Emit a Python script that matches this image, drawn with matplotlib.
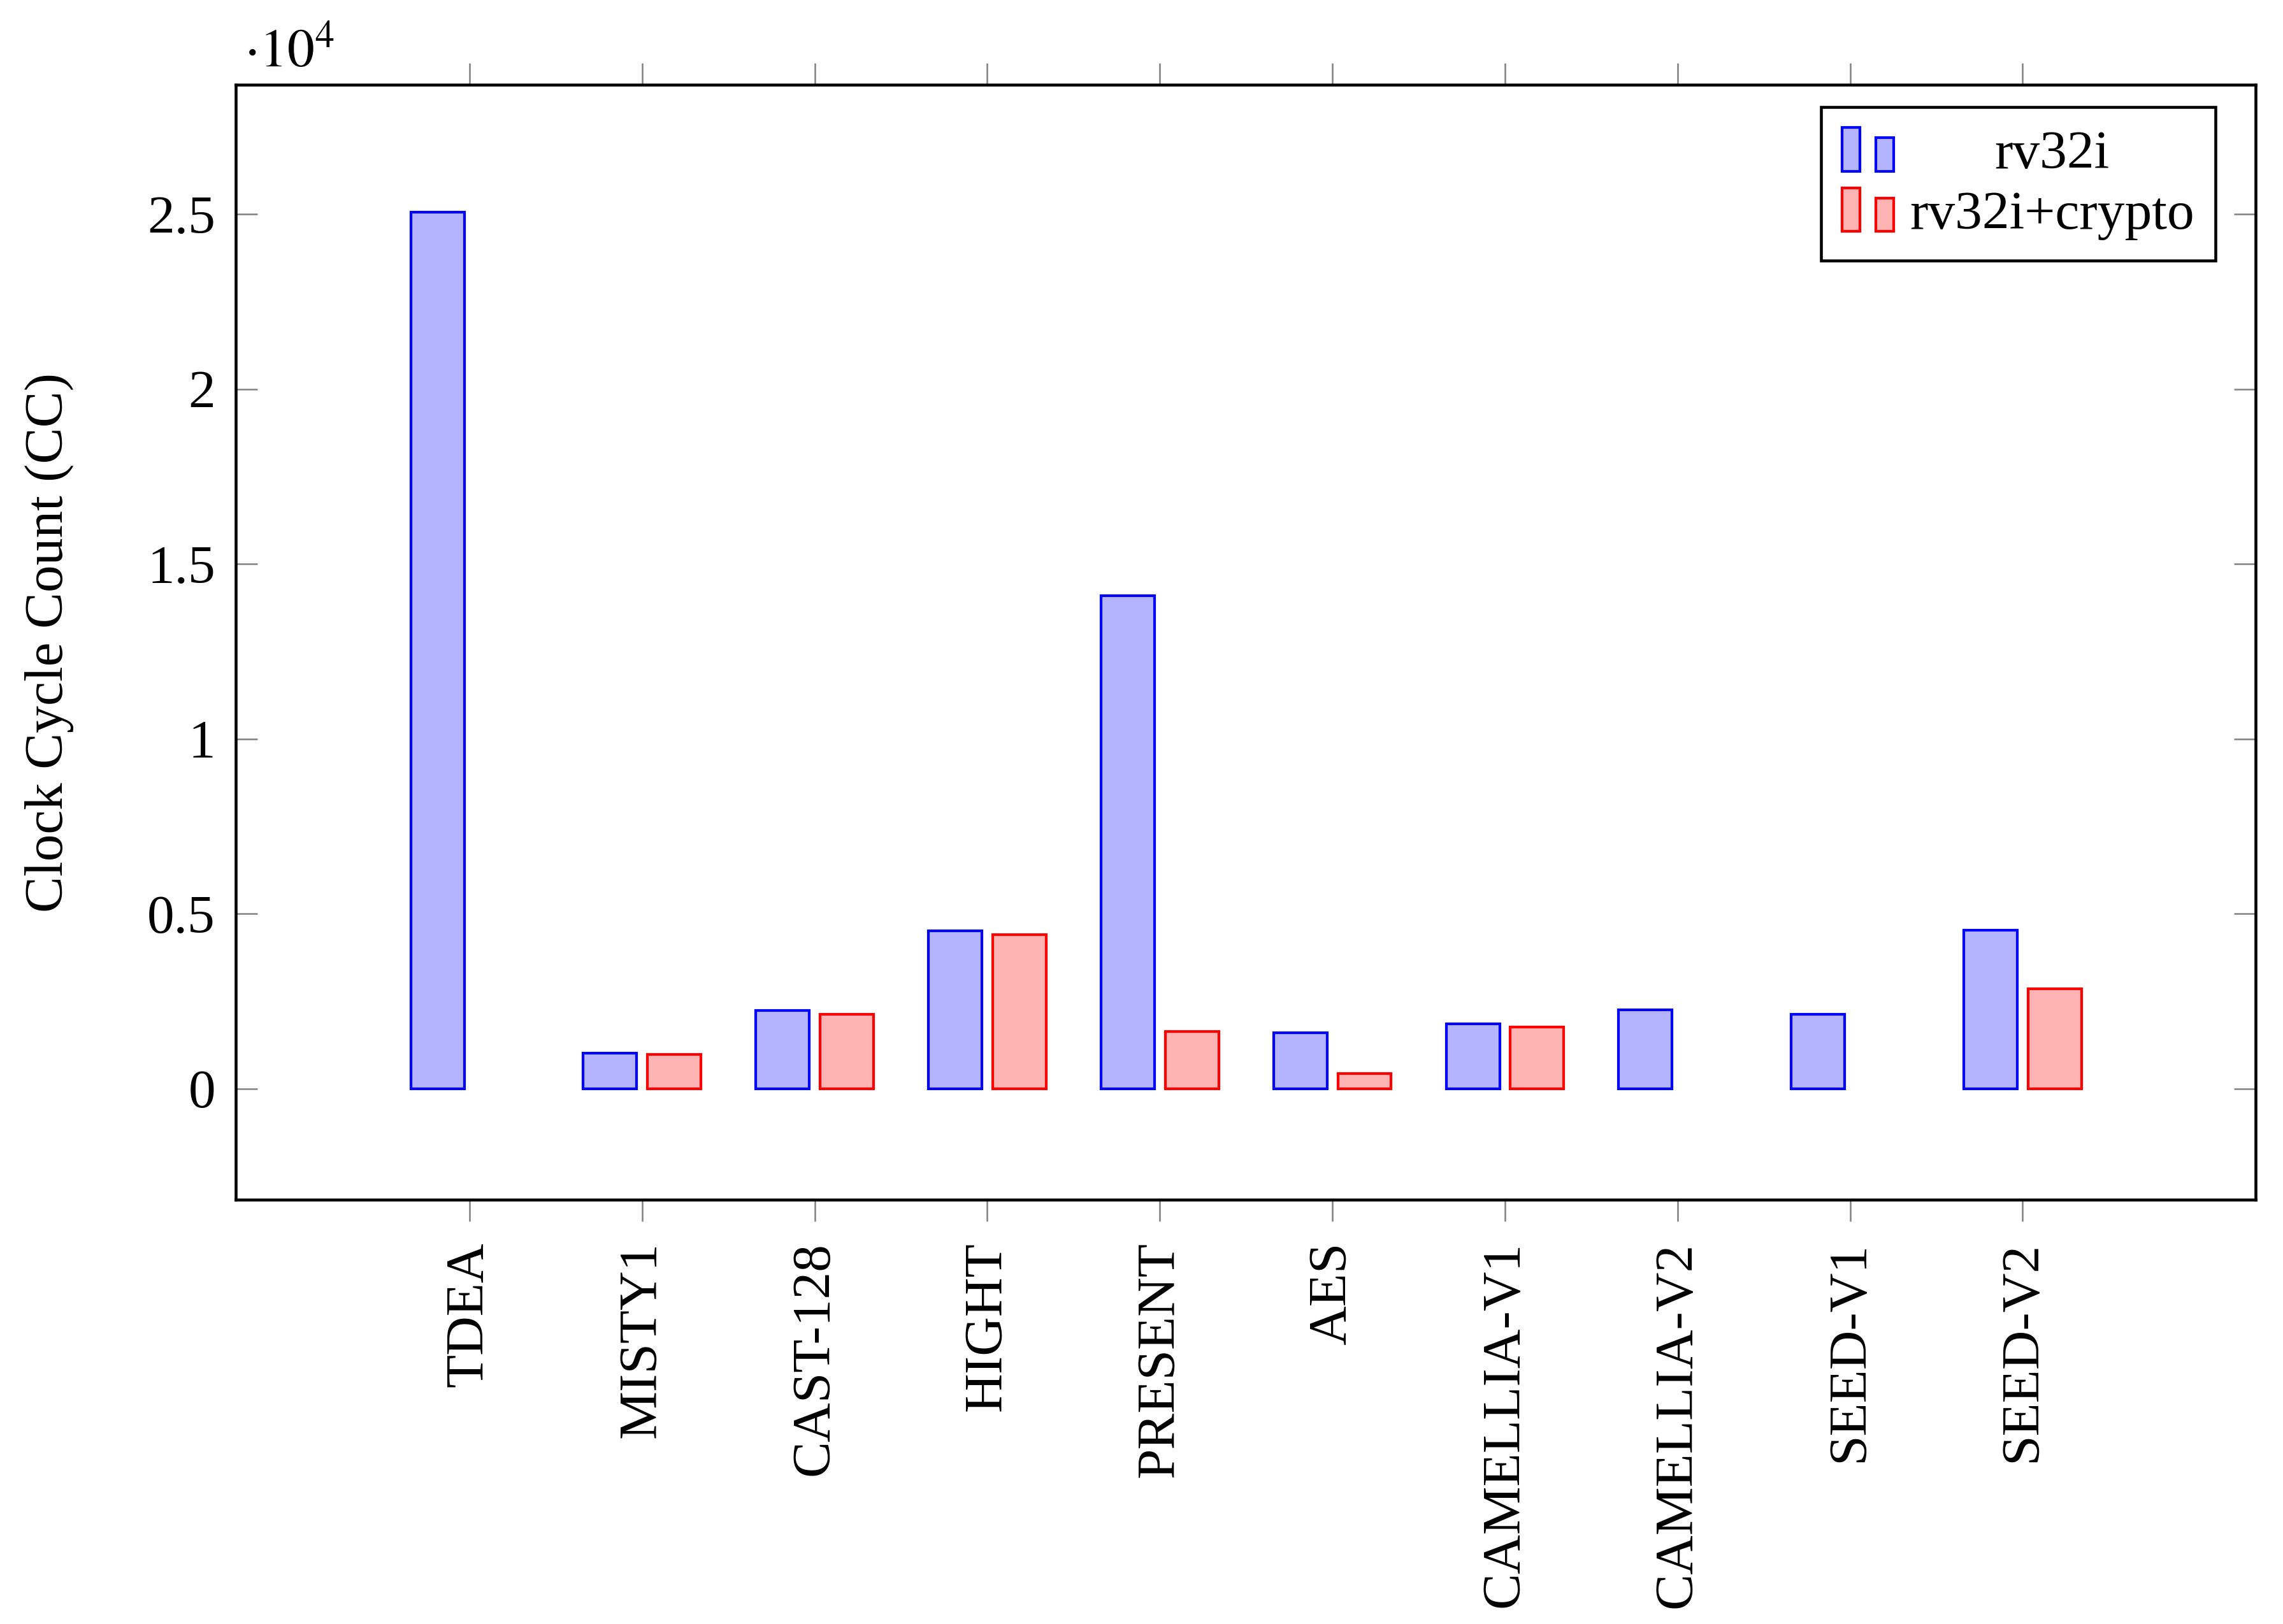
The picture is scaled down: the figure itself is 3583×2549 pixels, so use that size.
import matplotlib
matplotlib.use('Agg')
import matplotlib.pyplot as plt
from matplotlib.patches import Rectangle
from matplotlib.legend_handler import HandlerBase
from matplotlib.ticker import FuncFormatter
import numpy as np

# cycle counts (None = no bar)
ciphers = ['TDEA', 'MISTY1', 'CAST-128', 'HIGHT', 'PRESENT', 'AES',
           'CAMELLIA-V1', 'CAMELLIA-V2', 'SEED-V1', 'SEED-V2']
rv32i = [25050, 1020, 2240, 4520, 14100, 1600, 1860, 2260, 2130, 4530]
rv32i_crypto = [None, 975, 2130, 4400, 1640, 430, 1765, None, None, 2850]
yticks = [0, 5000, 10000, 15000, 20000, 25000]

plt.rcParams['font.family'] = ['Liberation Serif', 'DejaVu Serif']
plt.rcParams['mathtext.fontset'] = 'stix'
plt.rcParams['font.size'] = 20.5

blue_fc = '#b3b3ff'
red_fc = '#ffb3b3'


class HandlerTwoBars(HandlerBase):
    # pgfplots style ybar legend image: two little bars
    def create_artists(self, legend, orig_handle, xdescent, ydescent,
                       width, height, fontsize, trans):
        fc = orig_handle.get_facecolor()
        ec = orig_handle.get_edgecolor()
        lw = orig_handle.get_linewidth()
        w = width * 0.35
        x0 = -xdescent
        y0 = -ydescent
        r1 = Rectangle((x0, y0), w, height, facecolor=fc, edgecolor=ec,
                       linewidth=lw, transform=trans)
        r2 = Rectangle((x0 + width * 0.65, y0), w, height * 0.77, facecolor=fc,
                       edgecolor=ec, linewidth=lw, transform=trans)
        return [r1, r2]


fig = plt.figure(figsize=(3583 / 300, 2549 / 300), dpi=300)
ax = fig.add_axes([0.10327, 0.26128, 0.88474, 0.68654])

x = np.arange(len(ciphers))
off = 0.186
bw = 0.31

b_idx = [i for i, v in enumerate(rv32i) if v is not None]
r_idx = [i for i, v in enumerate(rv32i_crypto) if v is not None]
h1 = ax.bar(x[b_idx] - off, [rv32i[i] for i in b_idx], width=bw,
            color=blue_fc, edgecolor='blue', linewidth=1.0, label='rv32i', zorder=2)
h2 = ax.bar(x[r_idx] + off, [rv32i_crypto[i] for i in r_idx], width=bw,
            color=red_fc, edgecolor='red', linewidth=1.0, label='rv32i+crypto', zorder=2)

ax.set_xlim(-1.355, 10.35)
ax.set_ylim(-3170, 28700)

ax.set_xticks(x)
ax.set_xticklabels(ciphers, rotation=90)
ax.set_yticks(yticks)
ax.yaxis.set_major_formatter(FuncFormatter(lambda v, p: '%g' % (v / 1e4)))

ax.tick_params(axis='x', direction='out', length=8.2, width=0.6, color='gray',
               pad=7.7, top=True, bottom=True)
ax.tick_params(axis='y', direction='in', length=8.2, width=0.6, color='gray',
               pad=7.7, left=True, right=True)
for s in ax.spines.values():
    s.set_linewidth(1.1)
    s.set_color('black')

ax.set_ylabel('Clock Cycle Count (CC)')
ax.yaxis.set_label_coords(-0.08, 0.5)

ax.text(0.004, 1.016, r'$\cdot 10^{4}$', transform=ax.transAxes,
        ha='left', va='baseline', fontsize=20.5)

leg = ax.legend(handles=[h1.patches[0], h2.patches[0]], labels=['rv32i', 'rv32i+crypto'],
                loc='upper right', bbox_to_anchor=(0.98, 0.98), borderaxespad=0,
                fancybox=False, framealpha=1, edgecolor='black',
                handler_map={Rectangle: HandlerTwoBars()},
                handlelength=0.95, handleheight=0.85, handletextpad=0.3,
                borderpad=0.38, labelspacing=0.15)
leg.get_frame().set_linewidth(1.1)

# center the shorter legend entry like pgfplots does
fig.canvas.draw()
r = fig.canvas.get_renderer()
texts = leg.get_texts()
widths = [t.get_window_extent(r).width for t in texts]
wmax = max(widths)
for t, w in zip(texts, widths):
    t.set_position(((wmax - w) / 2, 0))

fig.savefig('out.png', dpi=300)
